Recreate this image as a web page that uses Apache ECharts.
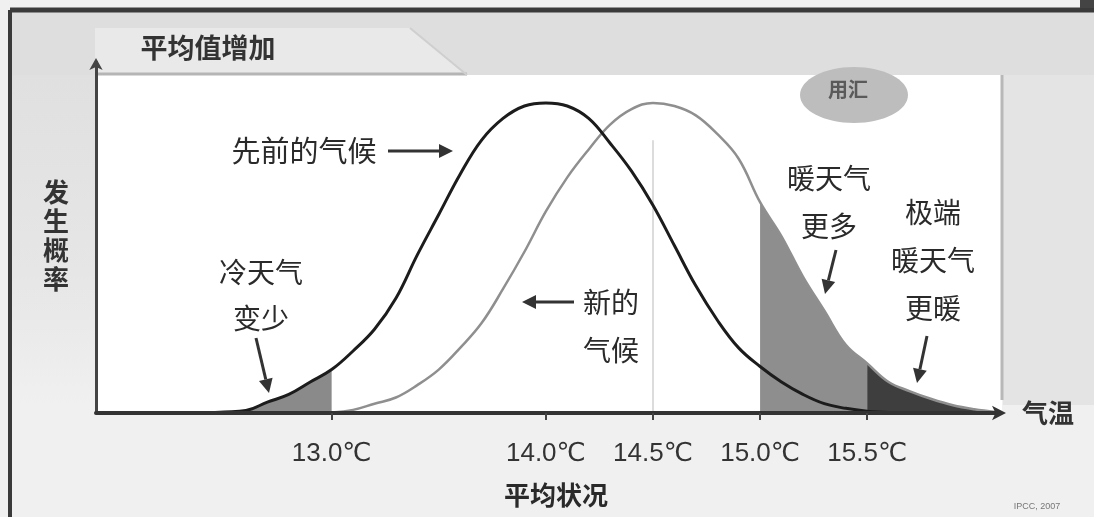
<!DOCTYPE html>
<html><head><meta charset="utf-8">
<script src="https://cdn.jsdelivr.net/npm/echarts@6/dist/echarts.min.js"></script>
<style>html,body{margin:0;padding:0;background:#ececec}#c{width:1094px;height:517px}</style>
</head><body><div id="c"></div>
<script>
// ---- data ----
const temps = [12.4,12.5,12.6,12.7,12.8,12.9,13.0,13.1,13.2,13.3,13.4,13.5,13.6,13.7,13.8,13.9,14.0,14.1,14.2,14.3,14.4,14.5,14.6,14.7,14.8,14.9,15.0,15.1,15.2,15.3,15.4,15.5,15.6,15.7,15.8,15.9,16.0,16.1];
const oldClimate = [0,0.003,0.008,0.035,0.06,0.10,0.14,0.20,0.27,0.37,0.51,0.64,0.77,0.88,0.95,0.99,1.00,0.99,0.95,0.87,0.78,0.67,0.54,0.41,0.30,0.21,0.15,0.10,0.06,0.03,0.015,0.006,0.002,0,0,0,0,0];
const newClimate = [0,0,0,0,0,0,0.002,0.01,0.03,0.05,0.09,0.14,0.21,0.29,0.40,0.52,0.65,0.76,0.85,0.93,0.98,1.00,0.99,0.96,0.90,0.82,0.68,0.57,0.44,0.33,0.22,0.16,0.10,0.07,0.045,0.025,0.012,0.003];
const tickTemps = [13.0, 14.0, 14.5, 15.0, 15.5];
const coldLimit = 13.0, hotLimit = 15.0, extremeLimit = 15.5, newMean = 14.5;

const CJK = '"Noto Sans CJK SC", sans-serif';
const oldPts = temps.map((t,i)=>[t, oldClimate[i]]);
const newPts = temps.map((t,i)=>[t, newClimate[i]]);

function arrow(x1,y1,x2,y2){
  const L=Math.hypot(x2-x1,y2-y1), ux=(x2-x1)/L, uy=(y2-y1)/L;
  const hl=14, hw=7, bx=x2-ux*hl, by=y2-uy*hl, px=-uy, py=ux;
  return [
    {type:'line', z:30, shape:{x1:x1,y1:y1,x2:bx,y2:by}, style:{stroke:'#333',lineWidth:3}},
    {type:'polygon', z:30, shape:{points:[[x2,y2],[bx+px*hw,by+py*hw],[bx-px*hw,by-py*hw]]}, style:{fill:'#333'}}
  ];
}
function txt(x,y,text,size,weight,lh,color){
  return {type:'text', z:30, x:x, y:y, style:{text:text, font:(weight||'normal')+' '+size+'px '+CJK,
    fill:color||'#2a2a2a', align:'center', verticalAlign:'middle', textAlign:'center', textVerticalAlign:'middle', lineHeight:lh||size}};
}

const graphics = [
  // backgrounds
  {type:'rect', z:-10, shape:{x:0,y:0,width:1094,height:517}, style:{fill:'#f0f0f0'}},
  {type:'rect', z:-9, shape:{x:10,y:12,width:1084,height:63}, style:{fill:'#dedede'}},
  {type:'rect', z:-9, shape:{x:10,y:75,width:86,height:330}, style:{fill:{type:'linear',x:0,y:0,x2:0,y2:1,
    colorStops:[{offset:0,color:'#e0e0e0'},{offset:0.6,color:'#e6e6e6'},{offset:1,color:'#f0f0f0'}]}}},
  {type:'rect', z:-9, shape:{x:1003,y:75,width:91,height:330}, style:{fill:'#e4e4e4'}},
  {type:'rect', z:-8, shape:{x:96,y:75,width:906,height:338}, style:{fill:'#ffffff'}},
  {type:'line', z:-7, shape:{x1:1002,y1:75,x2:1002,y2:400}, style:{stroke:'#b8b8b8',lineWidth:3}},
  // frame
  {type:'line', z:40, shape:{x1:10,y1:10,x2:1094,y2:10}, style:{stroke:'#3a3a3a',lineWidth:5}},
  {type:'line', z:40, shape:{x1:10,y1:10,x2:10,y2:517}, style:{stroke:'#3a3a3a',lineWidth:4}},
  {type:'rect', z:40, shape:{x:1080,y:0,width:14,height:8}, style:{fill:'#444'}},
  // tab
  {type:'polygon', z:-6, shape:{points:[[95,28],[410,28],[467,75],[95,75]]}, style:{fill:'#e9e9e9'}},
  {type:'line', z:-5, shape:{x1:95,y1:74,x2:467,y2:74}, style:{stroke:'#b5b5b5',lineWidth:3}},
  {type:'line', z:-5, shape:{x1:410,y1:28,x2:467,y2:75}, style:{stroke:'#cfcfcf',lineWidth:2}},
  txt(208,48,'平均值增加',27,'bold',27,'#333'),
  // ellipse badge
  {type:'ellipse', z:-5, shape:{cx:854,cy:95,rx:54,ry:28}, style:{fill:'#bdbdbd'}},
  txt(848,89,'用汇',20,'bold',20,'#5a5a5a'),
  // axis names
  txt(56,236,'发\n生\n概\n率',26,'bold',29,'#333'),
  txt(1048,413,'气温',26,'bold',26,'#333'),
  txt(556,495,'平均状况',26,'bold',26,'#2a2a2a'),
  {type:'text', z:30, x:1037, y:507, style:{text:'IPCC, 2007', font:'9px "Liberation Sans", sans-serif', fill:'#777', align:'center', verticalAlign:'middle', textAlign:'center', textVerticalAlign:'middle'}},
  // annotations
  txt(304,151,'先前的气候',29,'normal',29),
  txt(261,295,'冷天气\n变少',28,'normal',46),
  txt(611,326,'新的\n气候',28,'normal',48),
  txt(829,202,'暖天气\n更多',28,'normal',48),
  txt(933,260,'极端\n暖天气\n更暖',28,'normal',48)
].concat(arrow(388,151,453,151), arrow(256,338,269,393), arrow(574,302,522,302),
         arrow(836,250,825,294), arrow(927,336,917,383));

const option = {
  animation:false,
  backgroundColor:'#f0f0f0',
  grid:{left:96, right:94, top:62, bottom:104},
  xAxis:{type:'value', min:11.9, max:16.12, z:20,
    axisLine:{show:true, lineStyle:{color:'#333', width:4}, symbol:['none','arrow'], symbolSize:[11,14], symbolOffset:[0,6]},
    axisTick:{show:true, customValues:tickTemps, length:7, lineStyle:{color:'#444', width:2}},
    axisLabel:{show:true, customValues:tickTemps, margin:28, fontSize:26, color:'#333',
      fontFamily:'"Liberation Sans", "DejaVu Sans", "Noto Sans CJK SC", sans-serif', formatter:v=>v.toFixed(1)+'℃'},
    splitLine:{show:false}},
  yAxis:{type:'value', min:0, max:1.132, z:20,
    axisLine:{show:true, lineStyle:{color:'#444', width:3}, symbol:['none','arrow'], symbolSize:[10,12], symbolOffset:[0,4]},
    axisTick:{show:false}, axisLabel:{show:false}, splitLine:{show:false}},
  graphic:{elements:graphics},
  series:[
    {name:'冷天气变少', type:'line', z:2, smooth:0.4, symbol:'none', silent:true,
      data:oldPts.filter(p=>p[0]<=coldLimit), lineStyle:{width:0}, areaStyle:{color:'#8a8a8a', opacity:1}},
    {name:'暖天气更多', type:'line', z:2, smooth:0.4, symbol:'none', silent:true,
      data:newPts.filter(p=>p[0]>=hotLimit && p[0]<=extremeLimit), lineStyle:{width:0}, areaStyle:{color:'#8e8e8e', opacity:1}},
    {name:'极端暖天气', type:'line', z:2, smooth:0.4, symbol:'none', silent:true,
      data:newPts.filter(p=>p[0]>=extremeLimit), lineStyle:{width:0}, areaStyle:{color:'#3e3e3e', opacity:1}},
    {name:'新的气候', type:'line', z:4, smooth:0.4, symbol:'none', silent:true,
      data:newPts.filter(p=>p[0]>=coldLimit), lineStyle:{color:'#8f8f8f', width:2.5},
      markLine:{silent:true, symbol:'none', label:{show:false}, lineStyle:{color:'#dcdcdc', width:2, type:'solid'},
        data:[[{coord:[newMean,0.0]},{coord:[newMean,0.88]}]]}},
    {name:'先前的气候', type:'line', z:5, smooth:0.4, symbol:'none', silent:true,
      data:oldPts.filter(p=>p[1]>0 || p[0]<13), lineStyle:{color:'#1c1c1c', width:3}}
  ]
};
const chart = echarts.init(document.getElementById('c'), null, {renderer:'canvas'});
chart.setOption(option);
</script></body></html>
